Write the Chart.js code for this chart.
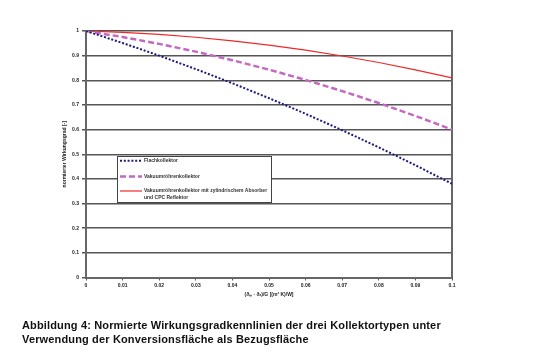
<!DOCTYPE html>
<html>
<head>
<meta charset="utf-8">
<script src="https://cdn.jsdelivr.net/npm/chart.js@4.4.1/dist/chart.umd.min.js"></script>
<style>
  body { margin: 0; background: #fff; }
  #wrap { position: relative; width: 554px; height: 353px; }
  #caption {
    position: absolute; left: 22px; top: 319px;
    font: bold 11px "Liberation Sans", Arial, sans-serif;
    line-height: 13.5px; color: #111; white-space: nowrap;
    letter-spacing: 0.15px;
  }
</style>
</head>
<body>
<div id="wrap">
  <canvas id="chart" width="554" height="353"></canvas>
  <div id="caption">Abbildung 4: Normierte Wirkungsgradkennlinien der drei Kollektortypen unter<br>Verwendung der Konversionsfläche als Bezugsfläche</div>
</div>
<script>
// x-Werte: (ϑm - ϑa)/G
const xWerte = [0, 0.01, 0.02, 0.03, 0.04, 0.05, 0.06, 0.07, 0.08, 0.09, 0.1];
const flachkollektor = [1, 0.9515, 0.900, 0.8455, 0.788, 0.7275, 0.664, 0.5975, 0.528, 0.4555, 0.38];
const vakuumroehre = [1, 0.9756, 0.9477, 0.9163, 0.8815, 0.8433, 0.8015, 0.7563, 0.7077, 0.6556, 0.600];
const vakuumCpc = [1, 0.9946, 0.9862, 0.9747, 0.9602, 0.9428, 0.9222, 0.8987, 0.8722, 0.8426, 0.810];
const xTicks = ["0", "0.01", "0.02", "0.03", "0.04", "0.05", "0.06", "0.07", "0.08", "0.09", "0.1"];
const yTicks = ["0", "0.1", "0.2", "0.3", "0.4", "0.5", "0.6", "0.7", "0.8", "0.9", "1"];
const legendTexte = [
  ["Flachkollektor"],
  ["Vakuumröhrenkollektor"],
  ["Vakuumröhrenkollektor mit zylindrischem Absorber", "und CPC Reflektor"],
];

const tickFont = { family: "Liberation Sans, Arial, sans-serif", size: 5, weight: "bold" };

function punkte(werte) {
  return werte.map((v, i) => ({ x: xWerte[i], y: v }));
}

// Legende innerhalb der Zeichenfläche
const legendePlugin = {
  id: "legende",
  afterDraw(chart) {
    const ctx = chart.ctx;
    const box = { x: 117.5, y: 156.5, w: 154, h: 46 };
    const zeilenY = [160.7, 176.5, 191];
    ctx.save();
    ctx.fillStyle = "#fff";
    ctx.fillRect(box.x, box.y, box.w, box.h);
    ctx.strokeStyle = "#444";
    ctx.lineWidth = 1;
    ctx.strokeRect(box.x, box.y, box.w, box.h);
    chart.data.datasets.forEach((ds, i) => {
      const y = zeilenY[i];
      ctx.strokeStyle = ds.borderColor;
      ctx.lineWidth = ds.borderWidth;
      ctx.setLineDash(ds.borderDash || []);
      ctx.beginPath();
      ctx.moveTo(120, y);
      ctx.lineTo(142, y);
      ctx.stroke();
      ctx.setLineDash([]);
      ctx.fillStyle = "#333";
      ctx.font = "bold 5px Liberation Sans, Arial, sans-serif";
      ctx.textBaseline = "middle";
      legendTexte[i].forEach((t, j) => ctx.fillText(t, 144, y + j * 6.5));
    });
    ctx.restore();
  },
};

new Chart(document.getElementById("chart").getContext("2d"), {
  type: "line",
  data: {
    datasets: [
      {
        label: legendTexte[0].join(" "),
        data: punkte(flachkollektor),
        borderColor: "#1c1c7c",
        borderWidth: 2,
        borderDash: [2, 1.8],
        pointRadius: 0,
        fill: false,
      },
      {
        label: legendTexte[1].join(" "),
        data: punkte(vakuumroehre),
        borderColor: "#c468c0",
        borderWidth: 2.5,
        borderDash: [6, 3],
        pointRadius: 0,
        fill: false,
      },
      {
        label: legendTexte[2].join(" "),
        data: punkte(vakuumCpc),
        borderColor: "#f02828",
        borderWidth: 1.2,
        pointRadius: 0,
        fill: false,
      },
    ],
  },
  plugins: [legendePlugin],
  options: {
    responsive: false,
    animation: false,
    layout: { padding: { left: 62, right: 102, top: 31, bottom: 51.5 } },
    plugins: { legend: { display: false }, tooltip: { enabled: false } },
    scales: {
      x: {
        type: "linear",
        min: 0,
        max: 0.1,
        afterFit: (s) => { s.height = 24; },
        afterBuildTicks: (s) => { s.ticks = xWerte.map((v) => ({ value: v })); },
        ticks: {
          font: tickFont,
          color: "#222",
          padding: 2,
          maxRotation: 0,
          callback: (v, i) => xTicks[i],
        },
        grid: { display: true, drawOnChartArea: false, tickLength: 3, color: "#555", lineWidth: 1 },
        border: { color: "#666", width: 2 },
        title: {
          display: true,
          text: "(ϑₘ - ϑₐ)/G [(m² K)/W]",
          font: tickFont,
          color: "#222",
          padding: { top: 4 },
        },
      },
      y: {
        min: 0,
        max: 1,
        afterFit: (s) => { s.width = 24; },
        afterBuildTicks: (s) => { s.ticks = yTicks.map((t, i) => ({ value: i / 10 })); },
        ticks: {
          font: tickFont,
          color: "#222",
          padding: 3,
          callback: (v, i) => yTicks[i],
        },
        grid: { color: "#555", lineWidth: 1.5, tickLength: 4 },
        border: { color: "#666", width: 2 },
        title: {
          display: true,
          text: "normierter Wirkungsgrad [-]",
          font: tickFont,
          color: "#222",
          padding: { top: 0, bottom: 0 },
        },
      },
      y2: {
        position: "right",
        min: 0,
        max: 1,
        ticks: { display: false },
        grid: { display: false },
        border: { color: "#666", width: 2 },
        afterFit: (s) => { s.width = 0; },
      },
    },
  },
});
</script>
</body>
</html>
